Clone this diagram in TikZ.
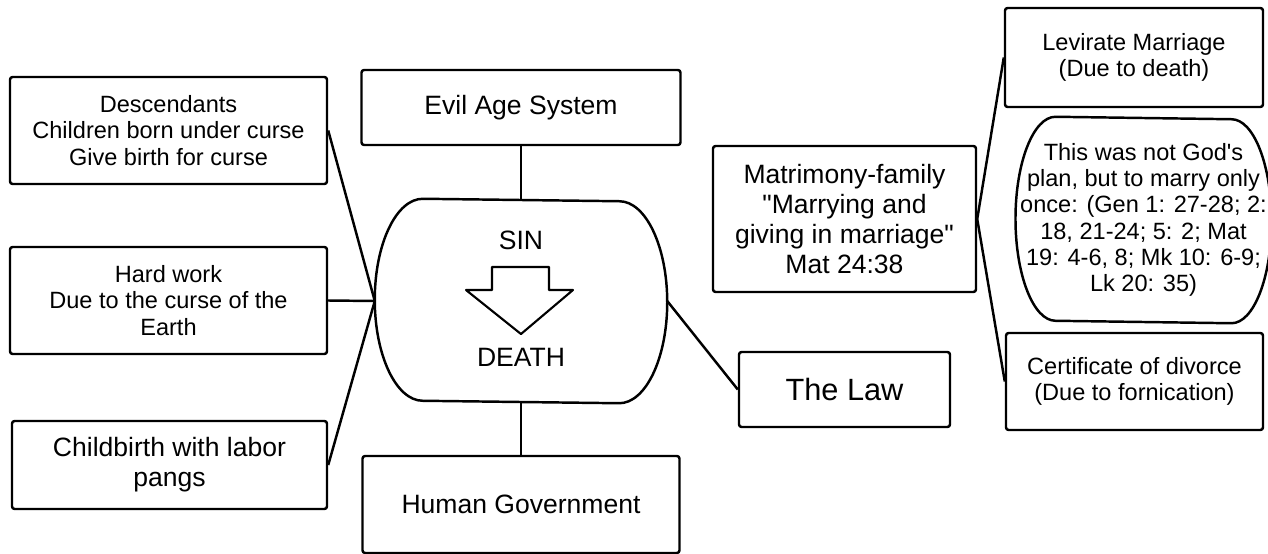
\documentclass[tikz,border=0pt]{standalone}
\usepackage{fontspec}
\setmainfont{Liberation Sans}[Ligatures=TeXOff]

\begin{document}
\begin{tikzpicture}[
    line width=1.4pt, line join=round,
    every node/.style={align=center, inner sep=2pt},
    box/.style={draw, rounded corners=1.5pt},
    body/.style={font=\fontsize{13.4}{15}\selectfont},
    big/.style={font=\fontsize{15.1}{17.2}\selectfont}
  ]
    \useasboundingbox (0,0) rectangle (25.36,-11.08);
    \node (desc) [box, body, minimum width=6.34cm, minimum height=2.14cm] at (3.37,-2.61) {Descendants\\Children born under curse\\Give birth for curse};
    \node (work) [box, body, minimum width=6.34cm, minimum height=2.14cm] at (3.37,-6.01) {Hard work\\Due to the curse of the\\Earth};
    \node (birth) [box, big, minimum width=6.3cm, minimum height=1.76cm] at (3.39,-9.30) {Childbirth with labor\\pangs};
    \node (evil) [box, big, minimum width=6.38cm, minimum height=1.5cm] at (10.42,-2.15) {Evil Age System};
    \node (core) [minimum width=5.8cm, minimum height=4.04cm] at (10.42,-6.02) {};
    \node (gov) [box, big, minimum width=6.34cm, minimum height=1.94cm] at (10.42,-10.09) {Human Government};
    \node (sin) [big] at (10.42,-4.8) {SIN};
    \node (death) [big] at (10.42,-7.14) {DEATH};
    \node (mat) [box, big, minimum width=5.26cm, minimum height=2.92cm] at (16.89,-4.38) {Matrimony-family\\"Marrying and\\giving in marriage"\\Mat 24:38};
    \node (law) [box, font=\fontsize{17.5}{20}\selectfont, minimum width=4.22cm, minimum height=1.5cm] at (16.89,-7.79) {The Law};
    \node (lev) [box, body, minimum width=5.16cm, minimum height=1.98cm] at (22.68,-1.15) {Levirate Marriage\\(Due to death)};
    \node (plan) [body, minimum width=4.86cm, minimum height=4.08cm] at (22.87,-4.4) {This was not God's\\plan, but to marry only\\once: (Gen 1: 27-28; 2:\\18, 21-24; 5: 2; Mat\\19: 4-6, 8; Mk 10: 6-9;\\Lk 20: 35)};
    \node (cert) [box, body, minimum width=5.14cm, minimum height=1.94cm] at (22.69,-7.63) {Certificate of divorce\\(Due to fornication)};
    \draw ([xshift=0.96cm]core.north west) arc[start angle=90, end angle=270, x radius=0.96cm, y radius=2.02cm]
      -- ([xshift=-0.96cm]core.south east) arc[start angle=-90, end angle=90, x radius=0.96cm, y radius=2.02cm] -- cycle;
    \draw ([xshift=0.8cm]plan.north west) arc[start angle=90, end angle=270, x radius=0.8cm, y radius=2.04cm]
      -- ([xshift=-0.8cm]plan.south east) arc[start angle=-90, end angle=90, x radius=0.8cm, y radius=2.04cm] -- cycle;
    \draw[line width=1.2pt] (9.84,-5.34) -- (10.98,-5.34) -- (10.98,-5.8) -- (11.46,-5.8) -- (10.42,-6.68) -- (9.32,-5.8) -- (9.84,-5.8) -- cycle;
    \draw (desc.east) -- (core.west);
    \draw (work.east) -- (core.west);
    \draw (birth.east) -- (core.west);
    \draw (evil) -- (core);
    \draw (core) -- (gov);
    \draw (core.east) -- (law.west);
    \draw (mat.east) -- (lev.west);
    \draw (mat.east) -- (cert.west);
\end{tikzpicture}
\end{document}
